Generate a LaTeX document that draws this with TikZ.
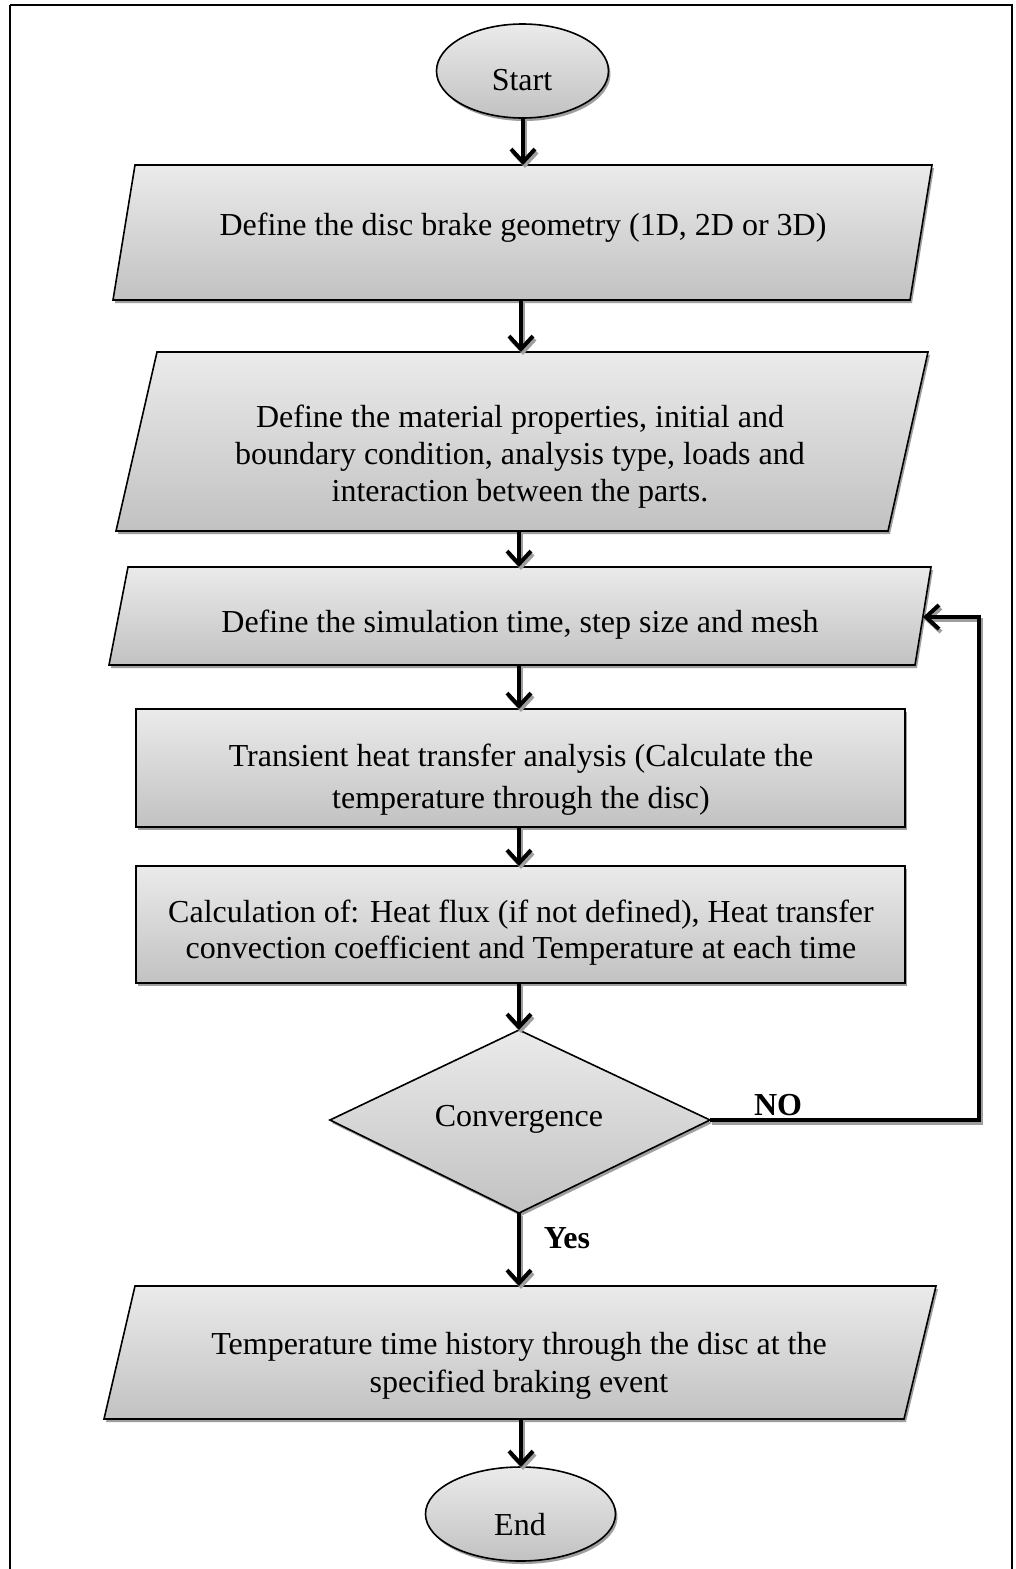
\documentclass[tikz,border=0pt]{standalone}
\usepackage{fontspec}
\setmainfont{Liberation Serif}
\usetikzlibrary{arrows.meta,shapes.geometric}
\definecolor{topg}{gray}{0.92}
\definecolor{botg}{gray}{0.76}
\definecolor{shd}{gray}{0.62}
\tikzset{
  boxfill/.style={top color=topg, bottom color=botg, draw=black, line width=1.6pt, line join=miter},
  boxshadow/.style={fill=shd, draw=none},
  txt/.style={font=\fontsize{32}{37}\selectfont, align=center, inner sep=0pt},
  lbl/.style={font=\fontsize{32}{36}\selectfont\bfseries, inner sep=0pt},
  conn/.style={line width=4pt, -{Straight Barb[length=13pt,width=24pt,line width=4pt]}},
  connshadow/.style={line width=4pt, draw=shd, -{Straight Barb[length=13pt,width=24pt,line width=4pt]}},
  frame/.style={line width=2.5pt}
}
\begin{document}
\begin{tikzpicture}[x=1pt,y=1pt]
\useasboundingbox (0,0) rectangle (1016,-1569);
\fill[white] (0,0) rectangle (1016,-1569);
\draw[frame] (10,-5) -- (1012,-5) -- (1012,-1580);
\draw[frame] (10,-5) -- (10,-1580);

% ---------- shapes (shadows first) ----------
% Start ellipse
\fill[boxshadow] (524.5,-74) ellipse [x radius=86, y radius=47];
\path[boxfill] (522.5,-71) ellipse [x radius=86, y radius=47];
% Box 1
\fill[boxshadow] (137,-168) -- (934,-168) -- (912,-303) -- (115,-303) -- cycle;
\path[boxfill] (135,-165) -- (932,-165) -- (910,-300) -- (113,-300) -- cycle;
% Box 2
\fill[boxshadow] (159,-355) -- (930,-355) -- (890,-534) -- (118,-534) -- cycle;
\path[boxfill] (157,-352) -- (928,-352) -- (888,-531) -- (116,-531) -- cycle;
% Box 3
\fill[boxshadow] (130,-570) -- (933,-570) -- (917,-668) -- (111,-668) -- cycle;
\path[boxfill] (128,-567) -- (931,-567) -- (915,-665) -- (109,-665) -- cycle;
% Box 4
\fill[boxshadow] (138,-712) rectangle (907,-830);
\path[boxfill] (136,-709) rectangle (905,-827);
% Box 5
\fill[boxshadow] (138,-869) rectangle (907,-986);
\path[boxfill] (136,-866) rectangle (905,-983);
% Diamond
\fill[boxshadow] (521,-1033) -- (712,-1123) -- (521,-1216) -- (332,-1123) -- cycle;
\path[boxfill] (519,-1030) -- (710,-1120) -- (519,-1213) -- (330,-1120) -- cycle;
% Box 6
\fill[boxshadow] (137,-1289) -- (938,-1289) -- (906,-1422) -- (106,-1422) -- cycle;
\path[boxfill] (135,-1286) -- (936,-1286) -- (904,-1419) -- (104,-1419) -- cycle;
% End ellipse
\fill[boxshadow] (522.5,-1517) ellipse [x radius=95, y radius=47];
\path[boxfill] (520.5,-1514) ellipse [x radius=95, y radius=47];

% ---------- text nodes ----------
\node[txt] (start) at (522,-80) {Start};
\node[txt] (geom) at (523,-227.5) {Define the disc brake geometry (1D, 2D or 3D)};
\node[txt] (mat) at (520,-457) {Define the material properties, initial and\\boundary condition, analysis type, loads and\\interaction between the parts.};
\node[txt] (sim) at (520,-624.5) {Define the simulation time, step size and mesh};
\node[txt, font=\fontsize{32}{42}\selectfont] (trans) at (521,-780) {Transient heat transfer analysis (Calculate the\\temperature through the disc)};
\node[txt, font=\fontsize{32}{36}\selectfont] (calc) at (521,-932.5) {Calculation of: Heat flux (if not defined), Heat transfer\\convection coefficient and Temperature at each time};
\node[txt] (conv) at (519,-1119.5) {Convergence};
\node[txt, font=\fontsize{32}{38}\selectfont] (hist) at (519,-1365.5) {Temperature time history through the disc at the\\specified braking event};
\node[txt] (end) at (520,-1525) {End};
\node[lbl] (no) at (778,-1105) {NO};
\node[lbl] (yes) at (567,-1238) {Yes};

% ---------- connection points on shape edges ----------
\coordinate (startS) at (523,-118);
\coordinate (geomN) at (523,-165);
\coordinate (geomS) at (521,-300);
\coordinate (matN) at (521,-352);
\coordinate (matS) at (519,-531);
\coordinate (simN) at (519,-567);
\coordinate (simS) at (519,-665);
\coordinate (simE) at (923,-617);
\coordinate (transN) at (519,-709);
\coordinate (transS) at (519,-827);
\coordinate (calcN) at (519,-866);
\coordinate (calcS) at (519,-983);
\coordinate (convN) at (519,-1030);
\coordinate (convS) at (519,-1213);
\coordinate (convE) at (710,-1120);
\coordinate (histN) at (519,-1286);
\coordinate (histS) at (521,-1419);
\coordinate (endN) at (521,-1467);
\coordinate (loopA) at (979,-1120);
\coordinate (loopB) at (979,-617);

% ---------- connectors ----------
\begin{scope}[transform canvas={xshift=2pt,yshift=-3pt}]
\draw[connshadow] (startS) -- (geomN);
\draw[connshadow] (geomS) -- (matN);
\draw[connshadow] (matS) -- (simN);
\draw[connshadow] (simS) -- (transN);
\draw[connshadow] (transS) -- (calcN);
\draw[connshadow] (calcS) -- (convN);
\draw[connshadow] (convS) -- (histN);
\draw[connshadow] (histS) -- (endN);
\draw[connshadow] (convE) -- (loopA) -- (loopB) -- (simE);
\end{scope}
\draw[conn] (startS) -- (geomN);
\draw[conn] (geomS) -- (matN);
\draw[conn] (matS) -- (simN);
\draw[conn] (simS) -- (transN);
\draw[conn] (transS) -- (calcN);
\draw[conn] (calcS) -- (convN);
\draw[conn] (convS) -- (histN);
\draw[conn] (histS) -- (endN);
\draw[conn, line join=miter] (convE) -- (loopA) -- (loopB) -- (simE);
\end{tikzpicture}
\end{document}
